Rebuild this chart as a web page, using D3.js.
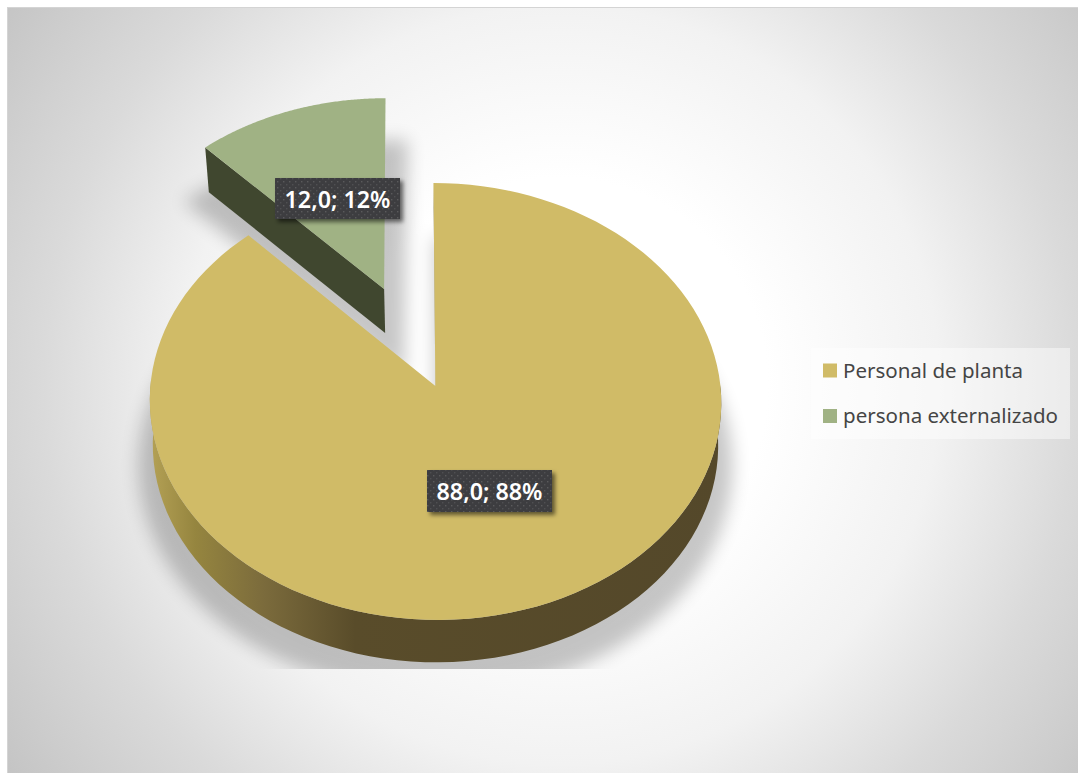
<!DOCTYPE html>
<html>
<head>
<meta charset="utf-8">
<script src="https://cdn.jsdelivr.net/npm/d3@7"></script>
<style>
html,body{margin:0;padding:0;background:#fff;overflow:hidden}
svg{display:block}
text{font-family:"Noto Sans",sans-serif}
</style>
</head>
<body>
<svg id="chart" width="1078" height="773"></svg>
<script>
// Chart data
const categories = ["Personal de planta", "persona externalizado"];
const values = [88, 12];
const explode = [0, 0.4955];
const faceColors = ["#d0bb67", "#a0b284"];
const labelBoxes = [[427, 470, 125, 42], [275, 178, 125, 41]];

const svg = d3.select("#chart");
const defs = svg.append("defs");

// Background: path-style grey to white
const bg = defs.append("radialGradient").attr("id", "bg")
  .attr("gradientUnits", "userSpaceOnUse")
  .attr("cx", 560).attr("cy", 385).attr("r", 690);
[[0, "#ffffff"], [0.3, "#ffffff"], [0.55, "#f2f2f2"], [0.75, "#dadada"], [0.9, "#cccccc"], [1, "#c2c2c2"]]
  .forEach(([o, c]) => bg.append("stop").attr("offset", o).attr("stop-color", c));

const wallGrad = defs.append("linearGradient").attr("id", "wall")
  .attr("gradientUnits", "userSpaceOnUse")
  .attr("x1", 150).attr("x2", 720).attr("y1", 0).attr("y2", 0);
[[0, "#b4a155"], [0.08, "#95853f"], [0.2, "#7b6b3c"], [0.36, "#594c2a"], [1, "#54482a"]]
  .forEach(([o, c]) => wallGrad.append("stop").attr("offset", o).attr("stop-color", c));

const blur = defs.append("filter").attr("id", "soft")
  .attr("x", "-20%").attr("y", "-20%").attr("width", "140%").attr("height", "140%");
blur.append("feGaussianBlur").attr("stdDeviation", 9);

const boxShadow = defs.append("filter").attr("id", "boxShadow")
  .attr("x", "-20%").attr("y", "-30%").attr("width", "140%").attr("height", "170%");
boxShadow.append("feDropShadow").attr("dx", 3).attr("dy", 3).attr("stdDeviation", 2.2)
  .attr("flood-color", "#000").attr("flood-opacity", 0.55);

const dots = defs.append("pattern").attr("id", "dots")
  .attr("patternUnits", "userSpaceOnUse").attr("width", 6).attr("height", 6);
dots.append("rect").attr("width", 6).attr("height", 6).attr("fill", "#3d3d3f");
dots.append("rect").attr("x", 1).attr("y", 1).attr("width", 1.4).attr("height", 1.4).attr("fill", "#5a5a5c");
dots.append("rect").attr("x", 4).attr("y", 4).attr("width", 1.4).attr("height", 1.4).attr("fill", "#505052");

const plotClip = defs.append("clipPath").attr("id", "plotClip");
plotClip.append("rect").attr("x", 8).attr("y", 7).attr("width", 1070).attr("height", 662);

svg.append("rect").attr("width", 1078).attr("height", 773).attr("fill", "#fff");
svg.append("rect").attr("x", 7.5).attr("y", 7.5).attr("width", 1071).attr("height", 766)
  .attr("fill", "url(#bg)").attr("stroke", "#d4d4d4");

// Tilted disc: a unit circle seen in perspective, one mapping for each face
const persp = 0.0709;
const topFace = { cx: 435.4, cy: 386, a: 285, b: 217.4, skew: 2.1 };
const baseFace = { cx: 435.4, cy: 429.5, a: 282, b: 216.3, skew: 1 };
const project = (face, u, v) => {
  const s = 1 / (1 - persp * v);
  return [face.cx + (face.a * u + face.skew * v) * s, face.cy + face.b * v * s];
};

const pieLayout = d3.pie().sort(null).value(d => d)(values);

const slices = pieLayout.map((d, i) => {
  const mid = (d.startAngle + d.endAngle) / 2;
  const ox = Math.sin(mid) * explode[i], oy = -Math.cos(mid) * explode[i];
  const angles = d3.range(0, 121).map(k => d.startAngle + (d.endAngle - d.startAngle) * k / 120);
  const rim = face => angles.map(t => project(face, ox + Math.sin(t), oy - Math.cos(t)));
  const apex = face => project(face, ox, oy);
  // Only the rim facing the viewer shows a side wall
  const front = angles.map((t, k) => -Math.cos(t) > -0.05 ? k : -1).filter(k => k >= 0);
  return { i, rim, apex, front, color: faceColors[i] };
});

const line = d3.line();
const wedge = (s, face) => line([s.apex(face), ...s.rim(face)]) + "Z";

// Soft cast shadows, cut off at the bottom of the plot area
const shadows = svg.append("g").attr("clip-path", "url(#plotClip)");
const shadowShape = shadows.append("g").attr("opacity", 0.22).attr("filter", "url(#soft)");
shadowShape.append("path").datum(slices[0])
  .attr("d", d => wedge(d, baseFace))
  .attr("transform", "translate(435 492) scale(1.05) translate(-435 -470)")
  .attr("fill", "#000");
shadowShape.append("path").datum(slices[1])
  .attr("d", d => wedge(d, baseFace))
  .attr("transform", "translate(298 261) scale(1.25) translate(-300 -240)")
  .attr("fill", "#000");

// Solid slices, back one first
const wallFill = ["url(#wall)", "#40472f"];
[slices[1], slices[0]].forEach(s => {
  const g = svg.append("g");
  const tr = s.rim(topFace), br = s.rim(baseFace);
  const ta = s.apex(topFace), ba = s.apex(baseFace);
  if (s.front.length > 1) {
    const outer = s.front.map(k => tr[k]);
    const inner = s.front.map(k => br[k]).reverse();
    g.append("path").attr("d", line([...outer, ...inner]) + "Z").attr("fill", wallFill[s.i]);
  }
  // Cut face at the slice's starting angle
  g.append("path").attr("d", line([ta, tr[0], br[0], ba]) + "Z")
    .attr("fill", s.i === 0 ? "#6d6a52" : wallFill[s.i]);
  g.append("path").attr("d", wedge(s, topFace)).attr("fill", s.color);
});

// Data labels
const total = d3.sum(values);
const labelText = v => `${v.toFixed(1).replace(".", ",")}; ${Math.round(v / total * 100)}%`;
values.forEach((v, i) => {
  const [x, y, w, h] = labelBoxes[i];
  svg.append("rect").attr("x", x).attr("y", y).attr("width", w).attr("height", h)
    .attr("fill", "url(#dots)").attr("filter", "url(#boxShadow)");
  svg.append("text").attr("x", x + w / 2).attr("y", y + h / 2 + 9)
    .attr("text-anchor", "middle").attr("fill", "#fff")
    .attr("font-size", 24).attr("font-weight", 600)
    .attr("textLength", 106).attr("lengthAdjust", "spacingAndGlyphs")
    .text(labelText(v));
});

// Legend
svg.append("rect").attr("x", 811).attr("y", 348).attr("width", 259).attr("height", 91)
  .attr("fill", "#fff").attr("fill-opacity", 0.45);
const legendY = d3.scalePoint().domain(categories).range([370.5, 416]);
const legendWidths = [180, 215];
categories.forEach((c, i) => {
  svg.append("rect").attr("x", 823).attr("y", legendY(c) - 7).attr("width", 14).attr("height", 14)
    .attr("fill", faceColors[i]);
  svg.append("text").attr("x", 843).attr("y", legendY(c) + 7)
    .attr("font-size", 20.5).attr("fill", "#454545")
    .attr("textLength", legendWidths[i]).attr("lengthAdjust", "spacingAndGlyphs")
    .text(c);
});
</script>
</body>
</html>
